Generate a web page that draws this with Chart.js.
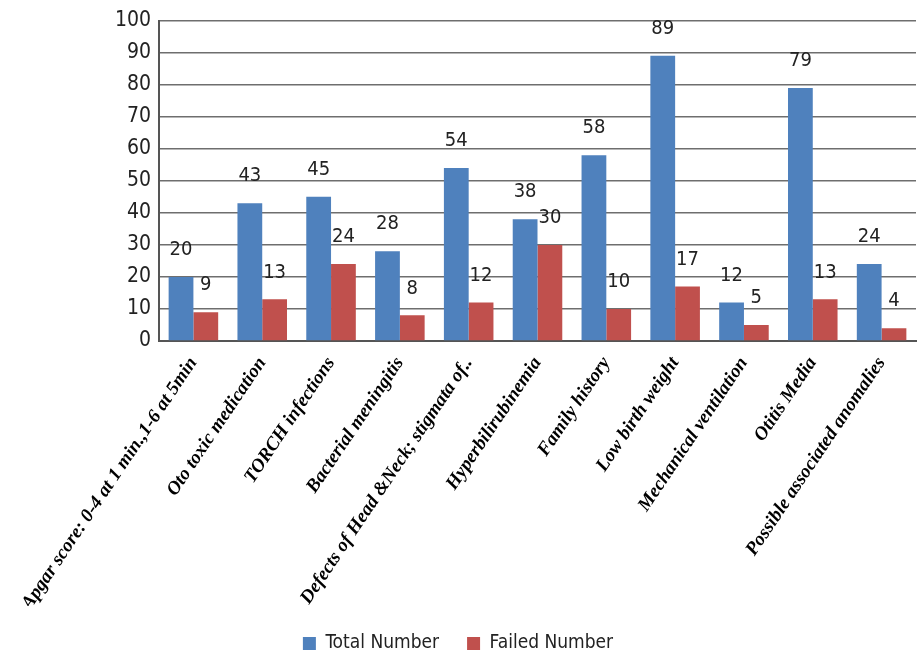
<!DOCTYPE html>
<html>
<head>
<meta charset="utf-8">
<style>
  html, body { margin: 0; padding: 0; background: #fff; }
  #wrap { width: 918px; height: 655px; }
</style>
<script src="https://cdn.jsdelivr.net/npm/chart.js@4"></script>
</head>
<body>
<div id="wrap"><canvas id="c" width="918" height="655"></canvas></div>
<script>
// risk factors (x categories)
var categories = [
  'Apgar score: 0-4 at 1 min.,1-6 at 5min',
  'Oto toxic medication',
  'TORCH infections',
  'Bacterial meningitis',
  'Defects of Head &Neck; stigmata of..',
  'Hyperbilirubinemia',
  'Family history',
  'Low birth weight',
  'Mechanical ventilation',
  'Otitis Media',
  'Possible associated anomalies'
];
var totalNumber = [20, 43, 45, 28, 54, 38, 58, 89, 12, 79, 24];
var failedNumber = [9, 13, 24, 8, 12, 30, 10, 17, 5, 13, 4];
var yTicks = [0, 10, 20, 30, 40, 50, 60, 70, 80, 90, 100];

var narrow = '"Liberation Sans Narrow", "DejaVu Sans Condensed", Arial, sans-serif';

// value labels sit a bit above each bar, like the original
var valueLabels = {
  id: 'valueLabels',
  afterDatasetsDraw: function(chart) {
    var ctx = chart.ctx;
    ctx.save();
    ctx.font = '20px ' + narrow;
    ctx.fillStyle = '#222';
    ctx.textAlign = 'center';
    ctx.textBaseline = 'bottom';
    chart.data.datasets.forEach(function(ds, di) {
      chart.getDatasetMeta(di).data.forEach(function(bar, i) {
        ctx.fillText(String(ds.data[i]), bar.x, bar.y - 17);
      });
    });
    ctx.restore();
  }
};

new Chart(document.getElementById('c'), {
  type: 'bar',
  data: {
    labels: categories,
    datasets: [
      { label: 'Total Number', data: totalNumber, backgroundColor: '#4F81BD',
        categoryPercentage: 0.72, barPercentage: 1.0 },
      { label: 'Failed Number', data: failedNumber, backgroundColor: '#C0504D',
        categoryPercentage: 0.72, barPercentage: 1.0 }
    ]
  },
  options: {
    responsive: false,
    animation: false,
    layout: { padding: { top: 14, right: 2, left: 0, bottom: -8 } },
    plugins: {
      legend: {
        position: 'bottom',
        labels: {
          boxWidth: 13, boxHeight: 13, padding: 28,
          color: '#222',
          font: { family: narrow, size: 19 }
        }
      },
      tooltip: { enabled: false }
    },
    scales: {
      x: {
        grid: { display: false },
        border: { color: '#555', width: 2 },
        ticks: {
          color: '#000',
          maxRotation: 56, minRotation: 56,
          autoSkip: false,
          padding: 4,
          font: { family: '"Liberation Serif", "Times New Roman", serif', size: 19, style: 'italic', weight: 'bold' }
        },
        afterFit: function(s) { s.height = 265; }
      },
      y: {
        min: 0, max: 100,
        afterBuildTicks: function(s) { s.ticks = yTicks.map(function(v) { return { value: v }; }); },
        grid: { color: '#6e6e6e', lineWidth: 1.5, drawTicks: false },
        border: { color: '#555', width: 2 },
        ticks: {
          color: '#222',
          padding: 8,
          font: { family: narrow, size: 21 }
        },
        afterFit: function(s) { s.width = 159; }
      }
    }
  },
  plugins: [valueLabels]
});
</script>
</body>
</html>
